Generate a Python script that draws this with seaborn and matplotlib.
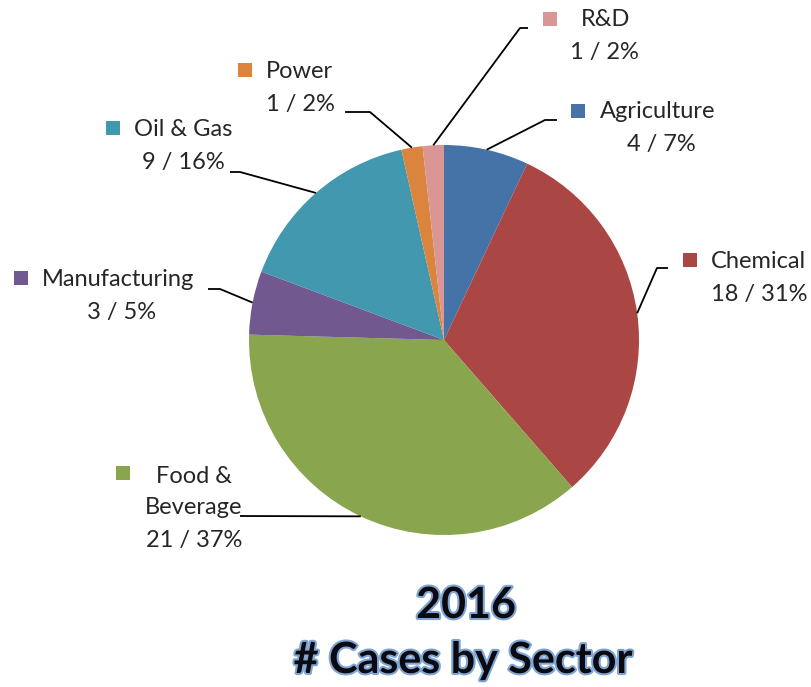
import matplotlib
matplotlib.use("Agg")
import matplotlib.pyplot as plt
import matplotlib.patheffects as pe
import numpy as np
import seaborn as sns

# data
sectors = ["Agriculture", "Chemical", "Food &\nBeverage", "Manufacturing", "Oil & Gas", "Power", "R&D"]
cases = [4, 18, 21, 3, 9, 1, 1]
pct_labels = ["7%", "31%", "37%", "5%", "16%", "2%", "2%"]
colors = ["#4572A7", "#AA4643", "#89A54E", "#71588F", "#4198AF", "#DB843D", "#D99694"]

sns.set_theme(style="white")
plt.rcParams["font.family"] = ["Lato", "DejaVu Sans"]

W, H = 812, 687
fig = plt.figure(figsize=(W / 100, H / 100), dpi=100)
ax = fig.add_axes([0, 0, 1, 1])

cx, cy, r = 444, 340, 195
wedges, _ = ax.pie(cases, colors=sns.color_palette(colors), startangle=-90, counterclock=True,
                   center=(cx, cy), radius=r, wedgeprops=dict(linewidth=0), frame=True)
ax.set_xlim(0, W)
ax.set_ylim(H, 0)
ax.set_aspect("equal")
ax.axis("off")

# label layout (pixel positions)
layout = {
    "Agriculture":   dict(sq=(578, 111), name=(600, 112), val=(661, 145), elbow=(545, 120), end=(557, 120)),
    "Chemical":      dict(sq=(690, 260), name=(711, 261), val=(759, 294), elbow=(657, 268), end=(668, 268)),
    "Food &\nBeverage": dict(sq=(123, 473), name=(194, 492), val=(194, 541), elbow=(240, 516), end=(240, 516), center=True),
    "Manufacturing": dict(sq=(21, 278), name=(42, 280), val=(122, 313), elbow=(220, 289), end=(208, 289)),
    "Oil & Gas":     dict(sq=(113, 128), name=(134, 130), val=(183, 163), elbow=(240, 172), end=(230, 172)),
    "Power":         dict(sq=(245, 70), name=(266, 71), val=(300, 104), elbow=(370, 112), end=(345, 112)),
    "R&D":           dict(sq=(550, 19), name=(581, 19), val=(604, 52), elbow=(520, 28), end=(528, 28)),
}

fs = 17
for w, name, n, p, col in zip(wedges, sectors, cases, pct_labels, colors):
    L = layout[name]
    mid = np.deg2rad((w.theta1 + w.theta2) / 2)
    ax_x = cx + r * np.cos(mid)
    ax_y = cy + r * np.sin(mid)
    ax.plot([ax_x, L["elbow"][0], L["end"][0]], [ax_y, L["elbow"][1], L["end"][1]],
            color="black", lw=1.3, solid_capstyle="butt")
    ax.scatter([L["sq"][0]], [L["sq"][1]], marker="s", s=110, color=col, linewidths=0)
    if L.get("center"):
        ax.text(L["name"][0], L["name"][1], name, ha="center", va="center", fontsize=fs,
                linespacing=1.55)
    else:
        ax.text(L["name"][0], L["name"][1], name, ha="left", va="center", fontsize=fs)
    ax.text(L["val"][0], L["val"][1], f"{n} / {p}", ha="center", va="center", fontsize=fs)

title_fx = [pe.Stroke(linewidth=3, foreground="#7fa5d4"), pe.Normal()]
ax.text(466, 605, "2016", ha="center", va="center", fontsize=31, fontweight="bold",
        color="#0a0a10", path_effects=title_fx)
ax.text(463, 660, "# Cases by Sector", ha="center", va="center", fontsize=31, fontweight="bold",
        color="#0a0a10", path_effects=title_fx)

fig.savefig("out.png", dpi=100)
